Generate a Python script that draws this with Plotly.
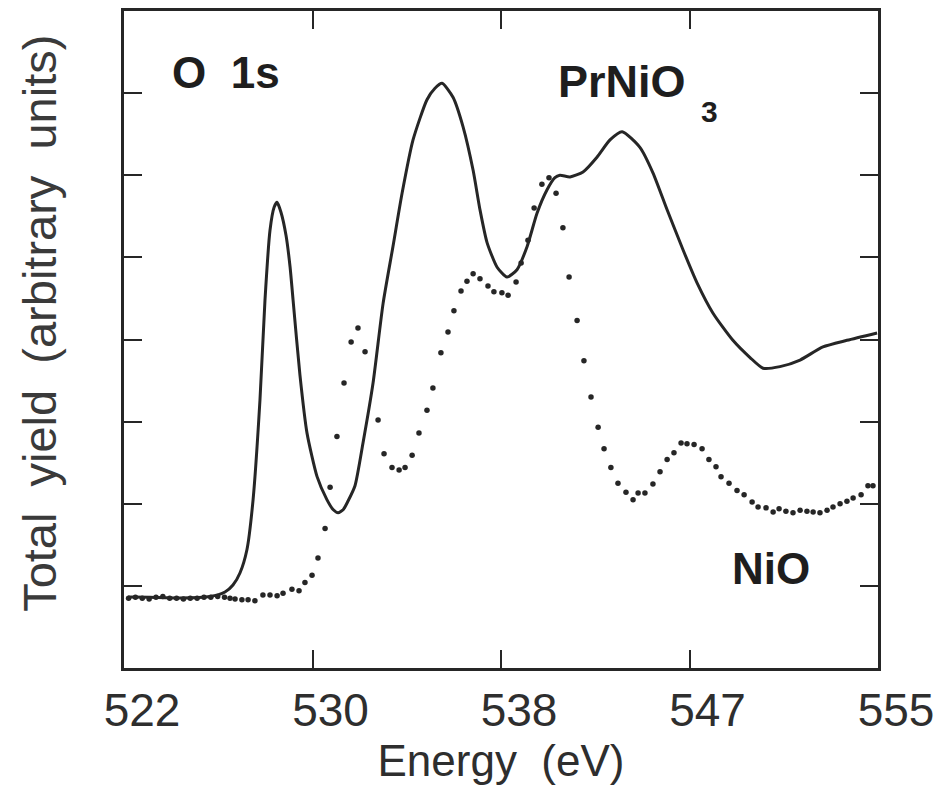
import plotly.graph_objects as go

# O 1s total-yield absorption spectra
# PrNiO3 (solid line)
prnio3_energy = [522.18, 523.14, 524.45, 525.76, 526.42, 526.77, 527.08, 527.38, 527.65,
                 527.95, 528.17, 528.39, 528.57, 528.70, 528.87, 529.09, 529.27, 529.40,
                 529.70, 530.01, 530.45, 530.88, 531.15, 531.37, 531.60, 531.80, 532.11,
                 532.46, 532.90, 533.34, 533.77, 534.17, 534.65, 535.26, 535.61, 535.92,
                 536.40, 536.84, 537.28, 537.58, 537.89, 538.33, 538.76, 539.20, 539.64,
                 540.08, 540.51, 540.86, 541.08, 541.52, 542.09, 542.70, 543.27, 543.80,
                 544.58, 545.15, 545.77, 546.47, 547.08, 547.78, 548.65, 549.40, 549.97,
                 550.71, 551.59, 552.59, 553.64, 554.96]
prnio3_yield = [0.865, 0.86, 0.852, 0.87, 0.925, 1.01, 1.16, 1.44, 2.05,
                3.26, 4.48, 5.33, 5.61, 5.67, 5.55, 5.27, 4.88, 4.48,
                3.57, 2.86, 2.33, 2.05, 1.93, 1.89, 1.93, 2.03, 2.22,
                2.74, 3.47, 4.44, 5.13, 5.78, 6.43, 6.92, 7.06, 7.12,
                6.95, 6.59, 6.06, 5.58, 5.18, 4.88, 4.76, 4.85, 5.13,
                5.54, 5.82, 5.97, 6.00, 5.98, 6.04, 6.22, 6.43, 6.53,
                6.34, 6.03, 5.58, 5.09, 4.69, 4.32, 3.99, 3.78, 3.65,
                3.67, 3.75, 3.91, 3.99, 4.08]

# NiO (dotted)
nio_energy = [522.2, 522.5, 522.8, 523.1, 523.4, 523.7, 524.0, 524.3, 524.6, 524.9,
              525.2, 525.5, 525.8, 526.1, 526.4,
              526.64, 526.86, 527.16, 527.43, 527.73, 528.08, 528.39, 528.70, 528.96,
              529.35, 529.66, 529.92, 530.23, 530.49, 530.80, 531.02, 531.32, 531.63,
              531.94, 532.24, 532.55, 533.12, 533.38, 533.73, 534.04, 534.30, 534.61,
              534.91, 535.26, 535.52, 535.87, 536.18, 536.44, 536.75, 537.01, 537.28,
              537.58, 537.93, 538.19, 538.54, 538.81, 539.16, 539.38, 539.68, 539.95,
              540.29, 540.60, 540.91, 541.21, 541.48, 541.83, 542.13, 542.44, 542.75,
              543.01, 543.31, 543.62, 543.97, 544.28, 544.50, 544.80, 545.15, 545.46,
              545.77, 546.07, 546.38, 546.64, 546.95, 547.30, 547.60, 547.91, 548.13,
              548.48, 548.83, 549.14, 549.49, 549.75, 550.10, 550.41, 550.67, 550.97,
              551.28, 551.59, 551.89, 552.16, 552.46, 552.77, 553.03, 553.34, 553.64,
              553.91, 554.26, 554.56, 554.78]
nio_yield = [0.85, 0.86, 0.85, 0.84, 0.86, 0.87, 0.85, 0.85, 0.84, 0.85,
             0.85, 0.86, 0.86, 0.87, 0.86,
             0.85, 0.84, 0.83, 0.83, 0.82, 0.89, 0.89, 0.88, 0.91,
             0.96, 0.94, 1.04, 1.13, 1.34, 1.70, 2.20, 2.82, 3.47,
             3.97, 4.14, 3.85, 3.02, 2.61, 2.44, 2.41, 2.44, 2.59,
             2.86, 3.14, 3.41, 3.84, 4.09, 4.35, 4.59, 4.71, 4.80,
             4.74, 4.65, 4.58, 4.57, 4.54, 4.70, 4.93, 5.21, 5.60,
             5.89, 5.97, 5.78, 5.36, 4.76, 4.23, 3.74, 3.30, 2.93,
             2.67, 2.44, 2.25, 2.14, 2.05, 2.13, 2.13, 2.24, 2.39,
             2.54, 2.62, 2.74, 2.73, 2.72, 2.67, 2.54, 2.45, 2.33,
             2.25, 2.16, 2.11, 2.02, 1.96, 1.95, 1.90, 1.94, 1.91,
             1.89, 1.92, 1.91, 1.90, 1.89, 1.92, 1.96, 2.00, 2.03,
             2.07, 2.11, 2.22, 2.22]

# axis ticks
x_tick_values = [522.0, 530.25, 538.5, 546.75, 555.0]
x_tick_text = ["522", "530", "538", "547", "555"]
y_tick_values = [1, 2, 3, 4, 5, 6, 7]

INK = "#262626"
FONT = "Liberation Sans, Arial, Helvetica, sans-serif"

fig = go.Figure()
fig.add_trace(go.Scatter(
    x=nio_energy, y=nio_yield, mode="markers", name="NiO",
    marker=dict(size=5.5, color=INK, symbol="circle"),
))
fig.add_trace(go.Scatter(
    x=prnio3_energy, y=prnio3_yield, mode="lines", name="PrNiO3",
    line=dict(color=INK, width=3, shape="spline", smoothing=0.6),
))

fig.update_layout(
    width=935, height=790,
    margin=dict(l=124, r=57, t=11, b=122, autoexpand=False),
    paper_bgcolor="white", plot_bgcolor="white",
    showlegend=False,
    font=dict(family=FONT, color="#333333"),
)
fig.update_xaxes(
    range=[522, 555], tickvals=x_tick_values, ticktext=x_tick_text,
    ticks="inside", ticklen=18, tickwidth=2, tickcolor=INK,
    showline=True, linecolor=INK, linewidth=2.5, mirror="ticks",
    showgrid=False, zeroline=False, automargin=False,
    tickfont=dict(size=46, color="#2e2e2e"),
    ticklabelshift=18, ticklabelstandoff=0,
    title=dict(text="Energy  (eV)", font=dict(size=44, color="#2e2e2e"), standoff=0),
)
fig.update_yaxes(
    range=[0, 8], tickvals=y_tick_values, showticklabels=False,
    ticks="inside", ticklen=18, tickwidth=2, tickcolor=INK,
    showline=True, linecolor=INK, linewidth=2.5, mirror="ticks",
    showgrid=False, zeroline=False, automargin=False,
)

# y-axis title, drawn rotated to the left of the frame
fig.add_annotation(
    text="Total  yield  (arbitrary  units)", textangle=-90,
    xref="paper", yref="paper", x=-0.113, y=0.525,
    xanchor="center", yanchor="middle", showarrow=False,
    font=dict(size=47, color="#3a3a3a", family=FONT),
)

# panel labels
fig.add_annotation(text="<b>O  1s</b>", xref="paper", yref="paper",
                   x=(170 - 124) / 754, y=(668 - 72) / 657,
                   xanchor="left", yanchor="middle", showarrow=False,
                   font=dict(size=44, color="#1e1e1e", family=FONT))
fig.add_annotation(text="<b>PrNiO</b>", xref="paper", yref="paper",
                   x=(556 - 124) / 754, y=(668 - 81) / 657,
                   xanchor="left", yanchor="middle", showarrow=False,
                   font=dict(size=45, color="#1e1e1e", family=FONT))
fig.add_annotation(text="<b>3</b>", xref="paper", yref="paper",
                   x=(699 - 124) / 754, y=(668 - 111) / 657,
                   xanchor="left", yanchor="middle", showarrow=False,
                   font=dict(size=30, color="#1e1e1e", family=FONT))
fig.add_annotation(text="<b>NiO</b>", xref="paper", yref="paper",
                   x=(730 - 124) / 754, y=(668 - 568) / 657,
                   xanchor="left", yanchor="middle", showarrow=False,
                   font=dict(size=44, color="#1e1e1e", family=FONT))

fig.write_html("out.html")
